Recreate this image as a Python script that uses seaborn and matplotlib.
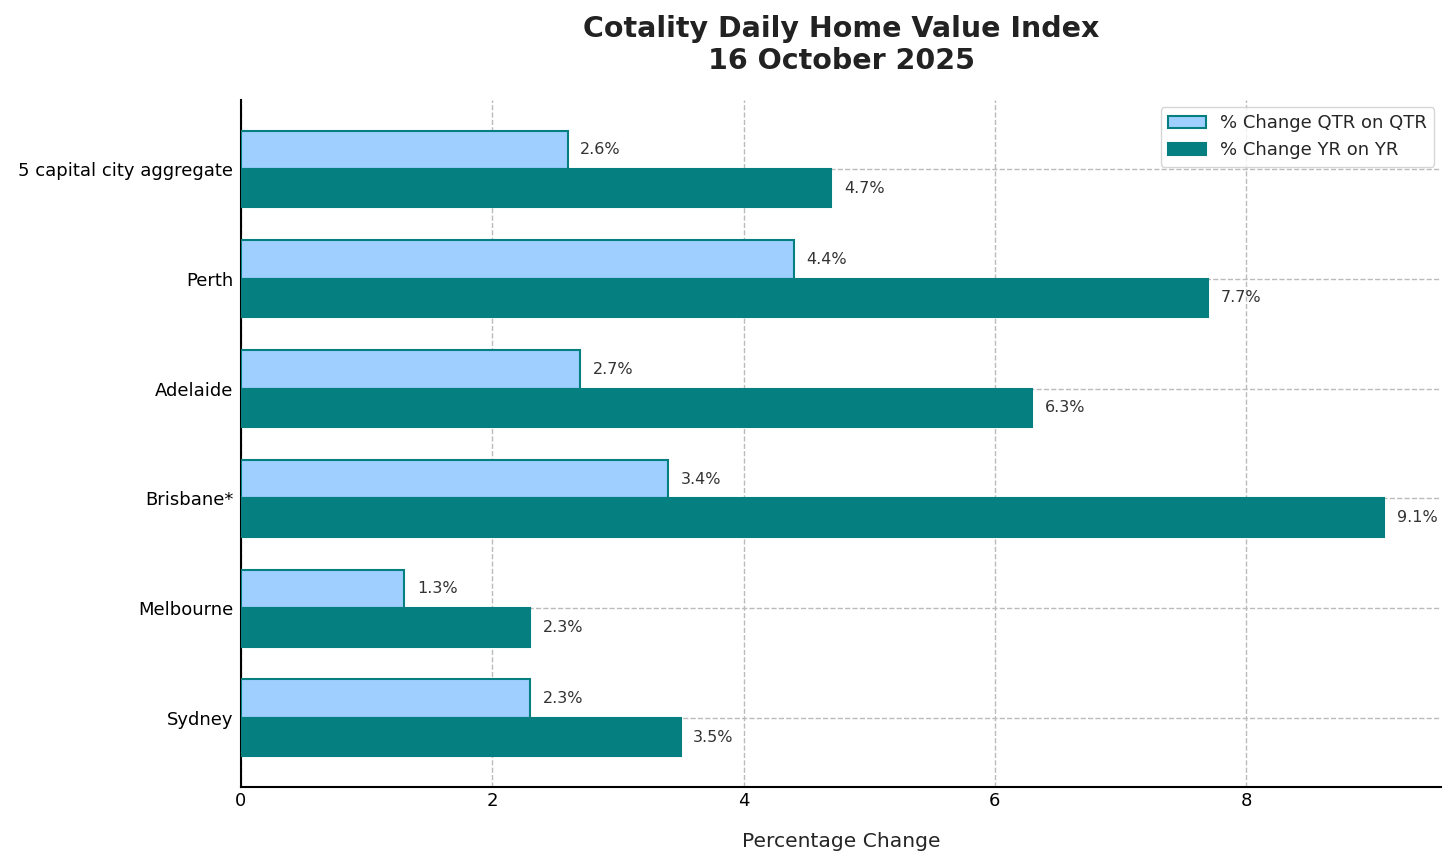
import matplotlib
matplotlib.use("Agg")
import matplotlib.pyplot as plt
import seaborn as sns
import pandas as pd

cities = ["5 capital city aggregate", "Perth", "Adelaide", "Brisbane*", "Melbourne", "Sydney"]
qtr_change = [2.6, 4.4, 2.7, 3.4, 1.3, 2.3]
yr_change = [4.7, 7.7, 6.3, 9.1, 2.3, 3.5]
series_names = ["% Change QTR on QTR", "% Change YR on YR"]

df = pd.DataFrame({
    "City": cities * 2,
    "Value": qtr_change + yr_change,
    "Series": [series_names[0]] * len(cities) + [series_names[1]] * len(cities),
})

sns.set_style("white")
plt.rcParams["font.family"] = ["DejaVu Sans"]

fig = plt.figure(figsize=(14.56, 8.68), dpi=100)
ax = fig.add_axes([0.1655, 0.0933, 0.8245, 0.7917])

light = "#9ecfff"
teal = "#067f80"
sns.barplot(data=df, y="City", x="Value", hue="Series", orient="h", order=cities,
            hue_order=series_names, palette=[light, teal], width=0.7,
            saturation=1, ax=ax, zorder=3)

for patch in ax.patches:
    patch.set_edgecolor(teal)
    patch.set_linewidth(1.5)

for cont in ax.containers:
    labels = [f"{v:.1f}%" for v in cont.datavalues]
    ax.bar_label(cont, labels=labels, padding=9, fontsize=11.5, color="#333333")

ax.set_xlim(0, max(yr_change) * 1.05)
ax.set_ylim(len(cities) - 1 + 0.63, -0.63)
ax.set_xticks([0, 2, 4, 6, 8])
ax.grid(True, linestyle="--", color="#bbbbbb", linewidth=1, zorder=0)
ax.set_axisbelow(True)
for s in ["top", "right"]:
    ax.spines[s].set_visible(False)
for s in ["left", "bottom"]:
    ax.spines[s].set_color("black")
    ax.spines[s].set_linewidth(1.5)
ax.tick_params(axis="both", direction="in", length=6, width=1.2, labelsize=13, colors="black")
ax.tick_params(axis="y", length=0, pad=5.5)
ax.set_ylabel("")
ax.set_xlabel("Percentage Change", fontsize=14.6, labelpad=16)
ax.set_title("Cotality Daily Home Value Index\n16 October 2025", fontsize=20.5,
             fontweight="bold", color="#222222", pad=22, linespacing=1.2)

leg = ax.legend(loc="upper right", fontsize=13, frameon=True, fancybox=True,
                edgecolor="#cccccc", borderaxespad=0.4, handlelength=2.1)
leg.set_title(None)
for h in leg.legend_handles:
    h.set_edgecolor(teal)
    h.set_linewidth(1.5)

fig.savefig("out.png", dpi=100)
